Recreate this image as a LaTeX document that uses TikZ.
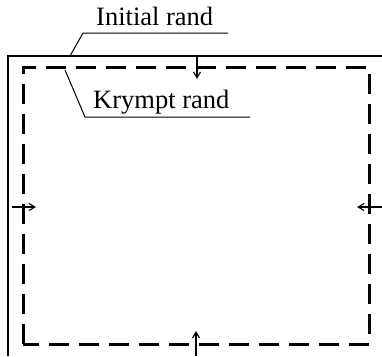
\documentclass[tikz,border=0pt]{standalone}
\usepackage{fontspec}
\setmainfont{Liberation Serif}
\usetikzlibrary{arrows.meta}
\begin{document}
\begin{tikzpicture}[x=1pt,y=-1pt,
  solidedge/.style={line width=1.4pt},
  shrunkedge/.style={line width=3pt,dash pattern=on 20pt off 10pt},
  leader/.style={line width=1pt},
  pusharrow/.style={line width=1.1pt,-{Straight Barb[length=6pt,width=7pt]}},
  lbl/.style={inner sep=0pt,anchor=base west,font=\fontsize{26.5}{30}\selectfont}]
\useasboundingbox (0,0) rectangle (382,356);
% initial edge (open frame)
\coordinate (tr) at (382,56);
\coordinate (tl) at (8,56);
\coordinate (bl) at (8,356);
\draw[solidedge] (tr) -- (tl) -- (bl);
% shrunk edge
\draw[shrunkedge] (23,344) -- (23,67) -- (369,67) -- (369,344) -- cycle;
% arrows
\coordinate (ta0) at (197,56); \coordinate (ta1) at (197,79);
\coordinate (la0) at (12,207); \coordinate (la1) at (36,207);
\coordinate (ra0) at (382,207); \coordinate (ra1) at (357,207);
\coordinate (ba0) at (196,356); \coordinate (ba1) at (196,331);
\draw[pusharrow] (ta0) -- (ta1);
\draw[pusharrow] (la0) -- (la1);
\draw[pusharrow] (ra0) -- (ra1);
\draw[pusharrow] (ba0) -- (ba1);
% labels
\node[lbl] (init) at (96,25) {Initial rand};
\node[lbl] (krym) at (93,108) {Krympt rand};
\coordinate (iu0) at (83,33); \coordinate (iu1) at (228,33); \coordinate (ip) at (70,56);
\coordinate (ku0) at (85,117); \coordinate (ku1) at (250,117); \coordinate (kp) at (65,70);
\draw[leader] (ip) -- (iu0) -- (iu1);
\draw[leader] (kp) -- (ku0) -- (ku1);
\end{tikzpicture}
\end{document}
